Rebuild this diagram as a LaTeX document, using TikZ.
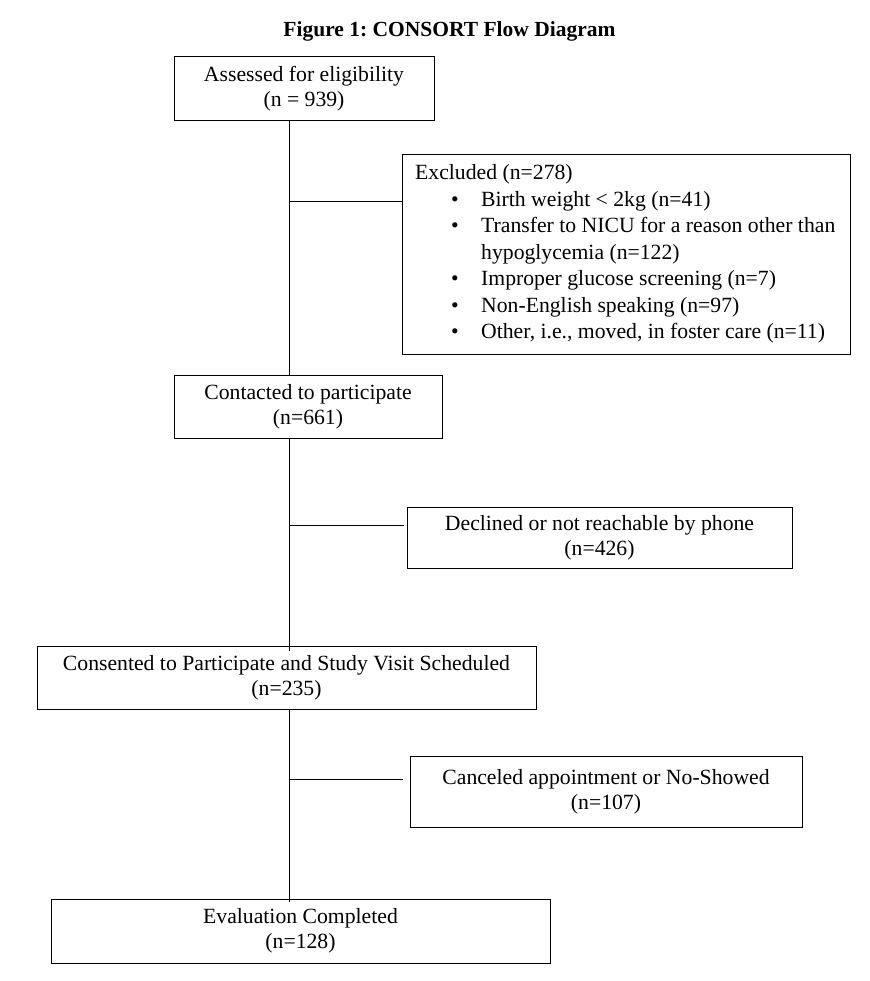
\documentclass[tikz,border=0pt]{standalone}
\usepackage{fontspec}
\setmainfont{Liberation Serif}
\frenchspacing
\begin{document}
\begin{tikzpicture}[x=1pt,y=-1pt,
  box/.style={draw=black,line width=1pt,inner sep=0pt,align=center,
    font=\fontsize{21.7}{25}\selectfont\frenchspacing},
  link/.style={draw=black,line width=0.8pt}]
\useasboundingbox[fill=white] (0,0) rectangle (869,981);
\node[font=\bfseries\fontsize{21.5}{25}\selectfont\frenchspacing] (title) at (449.5,31) {Figure 1: CONSORT Flow Diagram};
\node[box,minimum width=260pt,minimum height=64pt] (b1) at (304,89) {Assessed for eligibility\\(n = 939)};
\node[box,minimum width=268pt,minimum height=63pt] (b2) at (308,406.5) {Contacted to participate\\(n=661)};
\node[box,minimum width=499pt,minimum height=63pt] (b3) at (286.5,677.5) {Consented to Participate and Study Visit Scheduled\\(n=235)};
\node[box,minimum width=499pt,minimum height=64pt] (b4) at (300.5,931) {Evaluation Completed\\(n=128)};
\node[box,minimum width=448pt,minimum height=199pt] (excl) at (626,254.5) {};
\node[inner sep=0pt,anchor=west,align=left,
  font=\fontsize{21.7}{26.5}\selectfont\frenchspacing] (excltext) at (415,254)
  {Excluded (n=278)\\
   \hspace*{36pt}\makebox[30pt][l]{\textbullet}Birth weight < 2kg (n=41)\\
   \hspace*{36pt}\makebox[30pt][l]{\textbullet}Transfer to NICU for a reason other than\\
   \hspace*{66pt}hypoglycemia (n=122)\\
   \hspace*{36pt}\makebox[30pt][l]{\textbullet}Improper glucose screening (n=7)\\
   \hspace*{36pt}\makebox[30pt][l]{\textbullet}Non-English speaking (n=97)\\
   \hspace*{36pt}\makebox[30pt][l]{\textbullet}Other, i.e., moved, in foster care (n=11)};
\node[box,minimum width=385pt,minimum height=61pt] (decl) at (599.5,537.5) {Declined or not reachable by phone\\(n=426)};
\node[box,minimum width=392pt,minimum height=71pt] (canc) at (606,791.5) {Canceled appointment or No-Showed\\(n=107)};
\coordinate (trunk) at (289,0);
\coordinate (br1) at (289,201);
\coordinate (br2) at (289,525);
\coordinate (br3) at (289,779);
\draw[link] (b1.south -| trunk) -- (b2.north -| trunk);
\draw[link] (b2.south -| trunk) -- ([yshift=-5pt]b3.north -| trunk);
\draw[link] (b3.south -| trunk) -- ([yshift=-3pt]b4.north -| trunk);
\draw[link] (br1) -- (br1 -| excl.west);
\draw[link,shorten >=3pt] (br2) -- (br2 -| decl.west);
\draw[link,shorten >=7pt] (br3) -- (br3 -| canc.west);
\end{tikzpicture}
\end{document}
